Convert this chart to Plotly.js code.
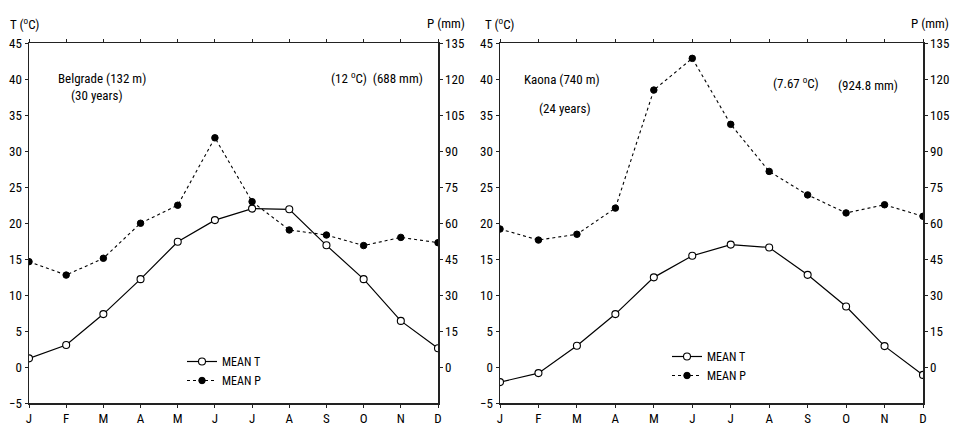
<!DOCTYPE html>
<html>
<head>
<meta charset="utf-8">
<script src="https://cdn.plot.ly/plotly-3.0.1.min.js"></script>
<style>html,body{margin:0;padding:0;background:#fff}#chart{width:955px;height:424px}</style>
</head>
<body>
<div id="chart"></div>
<script>
const months = ['J','F','M','A','M','J','J','A','S','O','N','D'];
const monthIdx = [0,1,2,3,4,5,6,7,8,9,10,11];
const belgradeT = [1.2, 3.05, 7.35, 12.2, 17.4, 20.4, 22.0, 21.9, 16.9, 12.2, 6.4, 2.6];
const belgradeP = [43.9, 38.3, 45.3, 59.9, 67.4, 95.5, 68.9, 57.1, 55.0, 50.6, 54.0, 51.8];
const kaonaT = [-2.1, -0.85, 2.95, 7.35, 12.45, 15.45, 17.0, 16.6, 12.8, 8.4, 2.9, -1.1];
const kaonaP = [57.5, 52.9, 55.3, 66.2, 115.4, 128.6, 101.1, 81.5, 71.7, 64.2, 67.6, 62.8];
const tTicks = [-5,0,5,10,15,20,25,30,35,40,45];
const pTicks = [0,15,30,45,60,75,90,105,120,135];
const seriesNames = ['MEAN T','MEAN P'];

const FONT = 'Liberation Sans Narrow, Arial Narrow, Roboto Condensed, Liberation Sans, Arial, sans-serif';
const AX = '#222';

function tTrace(x, y, xa, ya, leg) {
  return {x, y, xaxis: xa, yaxis: ya, type: 'scatter', mode: 'lines+markers', name: seriesNames[0],
    legend: leg,
    line: {color: '#000', width: 1.2},
    marker: {symbol: 'circle', size: 7, color: '#fff', line: {color: '#000', width: 1.1}}};
}
function pTrace(x, y, xa, ya, leg) {
  return {x, y, xaxis: xa, yaxis: ya, type: 'scatter', mode: 'lines+markers', name: seriesNames[1],
    legend: leg,
    line: {color: '#000', width: 1.1, dash: 'dot'},
    marker: {symbol: 'circle', size: 6.5, color: '#000', line: {color: '#000', width: 1}}};
}

const data = [
  tTrace(monthIdx, belgradeT, 'x', 'y', 'legend'),
  pTrace(monthIdx, belgradeP, 'x', 'y2', 'legend'),
  tTrace(monthIdx, kaonaT, 'x2', 'y3', 'legend2'),
  pTrace(monthIdx, kaonaP, 'x2', 'y4', 'legend2')
];

const yDom = [1 - 403/424, 1 - 43/424];
function xAxis(dom, anchor) {
  return {domain: dom, anchor: anchor, range: [0, 11], tickvals: monthIdx, ticktext: months,
    showgrid: false, zeroline: false, showline: true, linecolor: AX, linewidth: 1.5,
    mirror: 'ticks', ticks: 'outside', ticklen: 3, tickcolor: AX,
    tickfont: {family: FONT, size: 13, color: '#000'}, fixedrange: true};
}
function tAxis(anchor) {
  return {domain: yDom, anchor: anchor, range: [-5, 45], tickvals: tTicks,
    showgrid: false, zeroline: false, showline: true, linecolor: AX, linewidth: 1.5,
    ticks: 'outside', ticklen: 3, tickcolor: AX, side: 'left',
    tickfont: {family: FONT, size: 13, color: '#000'}};
}
function pAxis(anchor, over) {
  return {domain: yDom, anchor: anchor, overlaying: over, side: 'right', range: [-15, 135], tickvals: pTicks,
    showgrid: false, zeroline: false, showline: true, linecolor: AX, linewidth: 1.5,
    ticks: 'outside', ticklen: 3, tickcolor: AX,
    tickfont: {family: FONT, size: 13, color: '#000'}};
}

function ann(text, x, y, xanchor) {
  return {text, x: x/955, y: 1 - y/424, xref: 'paper', yref: 'paper', xanchor: xanchor || 'left', yanchor: 'middle',
    showarrow: false, font: {family: FONT, size: 13, color: '#000'}};
}

const layout = {
  width: 955, height: 424,
  margin: {l: 0, r: 0, t: 0, b: 0},
  paper_bgcolor: '#fff', plot_bgcolor: '#fff',
  showlegend: true,
  xaxis: xAxis([29/955, 438/955], 'y'),
  yaxis: tAxis('x'),
  yaxis2: pAxis('x', 'y'),
  xaxis2: xAxis([500/955, 923/955], 'y3'),
  yaxis3: tAxis('x2'),
  yaxis4: pAxis('x2', 'y3'),
  legend: {x: 182/955, y: 1 - 347/424, xanchor: 'left', yanchor: 'top', bgcolor: 'rgba(0,0,0,0)',
    font: {family: FONT, size: 12, color: '#000'}, itemwidth: 30, tracegroupgap: 0},
  legend2: {x: 667/955, y: 1 - 342/424, xanchor: 'left', yanchor: 'top', bgcolor: 'rgba(0,0,0,0)',
    font: {family: FONT, size: 12, color: '#000'}, itemwidth: 30, tracegroupgap: 0},
  annotations: [
    ann('T (<sup>o</sup>C)', 8, 24),
    ann('P (mm)', 467, 24, 'right'),
    ann('Belgrade (132 m)', 56, 78),
    ann('(30 years)', 69, 96),
    ann('(12 <sup>o</sup>C)  (688 mm)', 329, 78),
    ann('T (<sup>o</sup>C)', 483, 24),
    ann('P (mm)', 951, 24, 'right'),
    ann('Kaona (740 m)', 522, 80),
    ann('(24 years)', 537, 108),
    ann('(7.67 <sup>o</sup>C)', 771, 83),
    ann('(924.8 mm)', 836, 85)
  ]
};

Plotly.newPlot('chart', data, layout, {displayModeBar: false, staticPlot: true});
</script>
</body>
</html>
